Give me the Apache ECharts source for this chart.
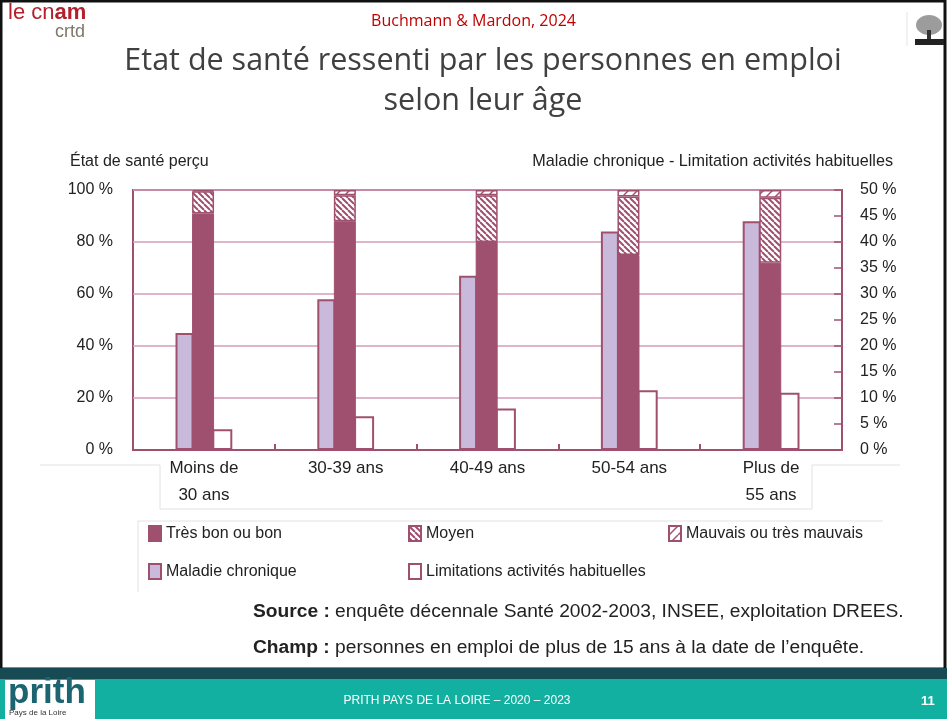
<!DOCTYPE html>
<html>
<head>
<meta charset="utf-8">
<script src="https://cdn.jsdelivr.net/npm/echarts@6/dist/echarts.min.js"></script>
<style>
  html, body { margin: 0; padding: 0; background: #fff; }
  #chart { width: 947px; height: 719px; }
</style>
</head>
<body>
<div id="chart"></div>
<script>
const categories = ['Moins de\n30 ans', '30-39 ans', '40-49 ans', '50-54 ans', 'Plus de\n55 ans'];
const tresBon = [91, 88, 80, 75, 72];
const moyen = [8.5, 10, 18, 22.5, 25];
const mauvais = [0.5, 2, 2, 2.5, 3];
const chronique = [22.5, 29, 33.5, 42, 44];
const limitations = [4, 6.5, 8, 11.5, 11];

const dark = '#a0506f';
const font = '"Liberation Sans", Arial, sans-serif';
const slideFont = '"Open Sans", sans-serif';

// hatch patterns for the stacked bars
function hatch(size, width, slash) {
    const c = document.createElement('canvas');
    c.width = size;
    c.height = size;
    const ctx = c.getContext('2d');
    ctx.fillStyle = '#fff';
    ctx.fillRect(0, 0, size, size);
    ctx.strokeStyle = dark;
    ctx.lineWidth = width;
    for (let k = -1; k <= 1; k++) {
        ctx.beginPath();
        if (slash) {
            ctx.moveTo(k * size, size);
            ctx.lineTo(k * size + size, 0);
        } else {
            ctx.moveTo(k * size, 0);
            ctx.lineTo(k * size + size, size);
        }
        ctx.stroke();
    }
    return c;
}

// one legend block per item, laid out on a 3-column grid
function legendItem(name, left, top) {
    return {
        data: [name], left: left, top: top, padding: 0, icon: 'rect',
        itemWidth: 12, itemHeight: 15, selectedMode: false,
        textStyle: { fontSize: 16, color: '#222', fontFamily: font }
    };
}

const chart = echarts.init(document.getElementById('chart'));

const option = {
    animation: false,
    backgroundColor: '#fff',
    title: [
        {
            text: 'Buchmann & Mardon, 2024', left: 'center', top: 13, padding: 0,
            textStyle: { color: '#c00000', fontSize: 16, fontWeight: 'normal', fontFamily: slideFont }
        },
        {
            text: 'Etat de santé ressenti par les personnes en emploi\nselon leur âge', left: 483, top: 41, padding: 0,
            textAlign: 'center',
            textStyle: { color: '#404040', fontSize: 30.5, lineHeight: 40, fontWeight: 'normal', fontFamily: slideFont }
        },
        {
            text: 'État de santé perçu', left: 70, top: 154, padding: 0,
            textStyle: { color: '#222', fontSize: 16, fontWeight: 'normal', fontFamily: font }
        },
        {
            text: 'Maladie chronique - Limitation activités habituelles', right: 54, top: 154, padding: 0,
            textStyle: { color: '#222', fontSize: 16.2, fontWeight: 'normal', fontFamily: font }
        },
        {
            text: '{b|Source :} enquête décennale Santé 2002-2003, INSEE, exploitation DREES.', left: 253, top: 602, padding: 0,
            textStyle: {
                color: '#222', fontSize: 19.2, fontWeight: 'normal', fontFamily: font,
                rich: { b: { fontSize: 19.2, fontWeight: 'bold', fontFamily: font, color: '#222' } }
            }
        },
        {
            text: '{b|Champ :} personnes en emploi de plus de 15 ans à la date de l\u2019enquête.', left: 253, top: 638, padding: 0,
            textStyle: {
                color: '#222', fontSize: 19.2, fontWeight: 'normal', fontFamily: font,
                rich: { b: { fontSize: 19.2, fontWeight: 'bold', fontFamily: font, color: '#222' } }
            }
        }
    ],
    legend: [
        legendItem('Très bon ou bon', 148, 525),
        legendItem('Moyen', 408, 525),
        legendItem('Mauvais ou très mauvais', 668, 525),
        legendItem('Maladie chronique', 148, 563),
        legendItem('Limitations activités habituelles', 408, 563)
    ],
    grid: {
        left: 133, right: 105, top: 190, bottom: 269,
        show: true, borderColor: dark, borderWidth: 2, backgroundColor: '#fff',
        outerBoundsMode: 'none'
    },
    xAxis: {
        type: 'category',
        data: categories,
        axisLine: { show: true, lineStyle: { color: dark, width: 2 } },
        axisTick: { show: true, inside: true, length: 6, lineStyle: { color: dark, width: 2 } },
        axisLabel: { fontSize: 17, lineHeight: 27, color: '#222', margin: 5, fontFamily: font }
    },
    yAxis: [
        {
            type: 'value', min: 0, max: 100, interval: 20,
            axisLine: { show: false },
            axisTick: { show: false },
            axisLabel: { formatter: '{value} %', fontSize: 16, color: '#222', margin: 20, fontFamily: font },
            splitLine: { lineStyle: { color: '#d39cb8', width: 1.5 } }
        },
        {
            type: 'value', min: 0, max: 50, interval: 5,
            axisLine: { show: false },
            axisTick: { show: true, inside: true, length: 8, lineStyle: { color: dark, width: 1.5 } },
            axisLabel: { formatter: '{value} %', fontSize: 16, color: '#222', margin: 18, fontFamily: font },
            splitLine: { show: false }
        }
    ],
    series: [
        {
            name: 'Maladie chronique', type: 'bar', yAxisIndex: 1, barWidth: 18, barGap: '-8%',
            data: chronique,
            itemStyle: { color: '#c9b9da', borderColor: dark, borderWidth: 2 }
        },
        {
            name: 'Très bon ou bon', type: 'bar', stack: 'sante', barWidth: 22, barGap: '-8%',
            data: tresBon,
            itemStyle: { color: dark, borderColor: dark, borderWidth: 1 }
        },
        {
            name: 'Moyen', type: 'bar', stack: 'sante', barWidth: 22, barGap: '-8%',
            data: moyen,
            itemStyle: { color: { image: hatch(6, 2, false), repeat: 'repeat' }, borderColor: dark, borderWidth: 1.5 }
        },
        {
            name: 'Mauvais ou très mauvais', type: 'bar', stack: 'sante', barWidth: 22, barGap: '-8%',
            data: mauvais,
            itemStyle: { color: { image: hatch(9, 1.5, true), repeat: 'repeat' }, borderColor: dark, borderWidth: 1.5 }
        },
        {
            name: 'Limitations activités habituelles', type: 'bar', yAxisIndex: 1, barWidth: 20, barGap: '-8%',
            data: limitations,
            itemStyle: { color: '#fff', borderColor: dark, borderWidth: 2 }
        }
    ],
    graphic: [
        // slide frame
        { type: 'rect', shape: { x: 1, y: 1, width: 944, height: 668 }, style: { fill: null, stroke: '#111', lineWidth: 3 }, silent: true },
        // faint table lines round labels and legend
        { type: 'polyline', shape: { points: [[40, 465], [160, 465], [160, 509], [812, 509], [812, 465], [900, 465]] }, style: { stroke: '#e2e2e2', lineWidth: 1, fill: null }, silent: true },
        { type: 'polyline', shape: { points: [[138, 592], [138, 521], [883, 521]] }, style: { stroke: '#e2e2e2', lineWidth: 1, fill: null }, silent: true },
        // cnam logo
        {
            type: 'text', x: 8, y: 2,
            style: {
                text: '{l|le cn}{b|am}', fill: '#b3202c',
                rich: {
                    l: { fontSize: 22, fontFamily: font, fill: '#b3202c' },
                    b: { fontSize: 22, fontFamily: font, fontWeight: 'bold', fill: '#b3202c' }
                }
            }
        },
        { type: 'text', x: 55, y: 23, style: { text: 'crtd', fontSize: 18, fontFamily: font, fill: '#7d7868' } },
        // creapt tree icon
        { type: 'line', shape: { x1: 907, y1: 12, x2: 907, y2: 46 }, style: { stroke: '#e4e4e4', lineWidth: 1 } },
        { type: 'ellipse', shape: { cx: 929, cy: 25, rx: 13, ry: 10 }, style: { fill: '#9c9c9c' } },
        { type: 'rect', shape: { x: 927, y: 30, width: 4, height: 10 }, style: { fill: '#333' } },
        { type: 'rect', shape: { x: 915, y: 39, width: 29, height: 6 }, style: { fill: '#222' } },
        // footer
        { type: 'rect', shape: { x: 0, y: 668, width: 947, height: 11 }, style: { fill: '#174a52' } },
        { type: 'rect', shape: { x: 0, y: 679, width: 947, height: 40 }, style: { fill: '#12b0a0' } },
        { type: 'rect', shape: { x: 5, y: 680, width: 90, height: 39 }, style: { fill: '#fff' } },
        { type: 'text', x: 8, y: 676, style: { text: 'prith', fontSize: 35, fontWeight: 'bold', fontFamily: font, fill: '#1b6470' } },
        { type: 'text', x: 9, y: 709, style: { text: 'Pays de la Loire', fontSize: 8, fontFamily: font, fill: '#333' } },
        {
            type: 'text', x: 457, y: 701,
            style: { text: 'PRITH PAYS DE LA LOIRE \u2013 2020 \u2013 2023', fontSize: 12, fontFamily: font, fill: '#fff', align: 'center', verticalAlign: 'middle' }
        },
        {
            type: 'text', x: 921, y: 701,
            style: { text: '11', fontSize: 13, fontWeight: 'bold', fontFamily: font, fill: '#fff', verticalAlign: 'middle' }
        }
    ]
};

chart.setOption(option);
</script>
</body>
</html>
